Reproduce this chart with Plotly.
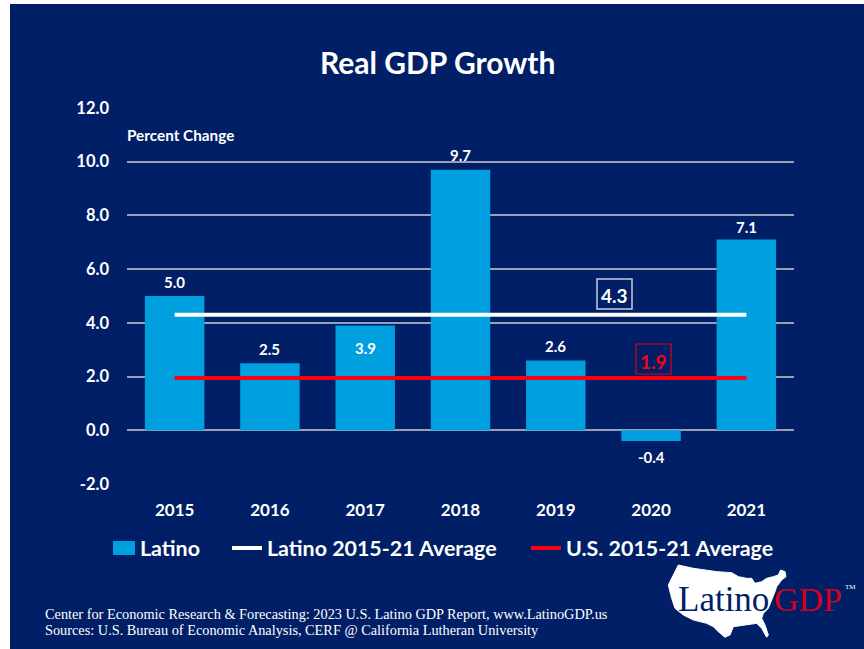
import plotly.graph_objects as go

years = ["2015", "2016", "2017", "2018", "2019", "2020", "2021"]
latino = [5.0, 2.5, 3.9, 9.7, 2.6, -0.4, 7.1]
latino_labels = ["5.0", "2.5", "3.9", "9.7", "2.6", "-0.4", "7.1"]
label_shift = [14, 14, -22, 15, 14, -16, 13]
latino_avg = [4.3] * 7
us_avg = [1.95] * 7
y_ticks = [-2, 0, 2, 4, 6, 8, 10, 12]
y_ticklabels = ["-2.0", "0.0", "2.0", "4.0", "6.0", "8.0", "10.0", "12.0"]

W, H = 864, 649
NAVY = "#001f66"
BLUE = "#009fe0"
GRID = "#9a9fb8"
RED = "#fb0012"
FONT = "Lato"


def px(x):
    return x / W


def py(y):
    return 1 - y / H


def path(points):
    return "M" + " L".join(f"{px(650 + x / 3):.4f},{py(550 + y / 3):.4f}" for x, y in points) + " Z"


map_outline = [
    (85, 45), (130, 55), (200, 65), (245, 68), (265, 80), (290, 85), (305, 85), (315, 100),
    (335, 95), (350, 85), (370, 80), (385, 75), (392, 60), (405, 65), (408, 80), (395, 90),
    (380, 110), (375, 125), (365, 150), (355, 175), (340, 190), (335, 205), (345, 225),
    (355, 255), (350, 262), (335, 235), (320, 220), (285, 225), (250, 230), (240, 255),
    (225, 262), (205, 245), (190, 230), (170, 220), (130, 210), (100, 195), (75, 175),
    (65, 145), (55, 105), (70, 75),
]


def legend_at(x):
    return dict(orientation="h", x=px(x), xanchor="left", y=py(548), yanchor="middle",
                font=dict(size=21.4, color="white", family=FONT, weight=700),
                bgcolor="rgba(0,0,0,0)", itemwidth=30)


def note(text, x, y, size, color="white", family=FONT, weight=700, anchor="center"):
    return dict(text=text, xref="paper", yref="paper", x=px(x), y=py(y), xanchor=anchor,
                yanchor="middle", showarrow=False,
                font=dict(size=size, color=color, family=family, weight=weight))


fig = go.Figure()
fig.add_bar(x=years, y=latino, name="Latino", marker_color=BLUE, marker_line_width=0,
            width=0.624, cliponaxis=False, legend="legend")
fig.add_scatter(x=years, y=latino_avg, name="Latino 2015-21 Average", mode="lines",
                line=dict(color="white", width=4), legend="legend2")
fig.add_scatter(x=years, y=us_avg, name="U.S. 2015-21 Average", mode="lines",
                line=dict(color=RED, width=4), legend="legend3")

bar_labels = [
    dict(text=t, x=i, y=v, xref="x", yref="y", yshift=s, showarrow=False,
         font=dict(size=15, color="white", family=FONT, weight=700))
    for i, (v, t, s) in enumerate(zip(latino, latino_labels, label_shift))
]

fig.update_layout(
    width=W, height=H, autosize=False,
    paper_bgcolor="white", plot_bgcolor="rgba(0,0,0,0)",
    margin=dict(l=0, r=0, t=0, b=0),
    font=dict(family=FONT, color="white"),
    showlegend=True,
    legend=legend_at(100), legend2=legend_at(227), legend3=legend_at(526),
    xaxis=dict(type="category", domain=[px(127), px(794)], range=[-0.5, 6.5], showgrid=False,
               zeroline=False, showline=False, ticks="", automargin=False, ticklabelstandoff=14,
               categoryorder="array", categoryarray=years,
               tickfont=dict(size=17, color="white", family=FONT, weight=700)),
    yaxis=dict(range=[-2, 12], domain=[py(484), py(108)], tickmode="array", tickvals=y_ticks,
               ticktext=y_ticklabels, showgrid=True, gridcolor=GRID, gridwidth=1.5,
               zeroline=True, zerolinecolor=GRID, zerolinewidth=1.5, showline=False,
               ticks="", automargin=False, ticklabelstandoff=17,
               tickfont=dict(size=16.5, color="white", family=FONT, weight=700)),
    shapes=[
        dict(type="rect", xref="paper", yref="paper", layer="below",
             x0=px(10), x1=1, y0=0, y1=py(4), fillcolor=NAVY, line_width=0),
        dict(type="rect", xref="paper", yref="paper", x0=px(113), x1=px(135),
             y0=py(555), y1=py(541), fillcolor=BLUE, line_width=0),
        dict(type="path", xref="paper", yref="paper", path=path(map_outline),
             fillcolor="white", line=dict(color="white", width=1)),
        dict(type="rect", xref="paper", yref="paper", x0=px(597), x1=px(632),
             y0=py(309), y1=py(279), line=dict(color="#c8cbd8", width=1.5)),
        dict(type="rect", xref="paper", yref="paper", x0=px(636), x1=px(671),
             y0=py(374), y1=py(344), line=dict(color="#e00014", width=1.2)),
    ],
    annotations=bar_labels + [
        note("Real GDP Growth", 437, 62, 30),
        note("Percent Change", 125, 135, 15.3, anchor="left"),
        note("4.3", 614.5, 295, 19),
        note("1.9", 653.5, 361, 19, color=RED),
        note("Center for Economic Research &amp; Forecasting: 2023 U.S. Latino GDP Report, www.LatinoGDP.us",
             43, 614, 14.3, family="Liberation Serif", weight=400, anchor="left"),
        note("Sources: U.S. Bureau of Economic Analysis, CERF @ California Lutheran University",
             43, 630, 14.3, family="Liberation Serif", weight=400, anchor="left"),
        note("Latino", 676, 599, 35, color=NAVY, family="Liberation Serif", weight=400, anchor="left"),
        note("GDP", 772, 599, 34, color="#d5001c", family="Liberation Serif", weight=400, anchor="left"),
        note("TM", 843, 587, 7, family="Liberation Serif", weight=400, anchor="left"),
    ],
)

fig.write_html("out.html", config={"displayModeBar": False},
               post_script="document.body.style.margin='0';")
